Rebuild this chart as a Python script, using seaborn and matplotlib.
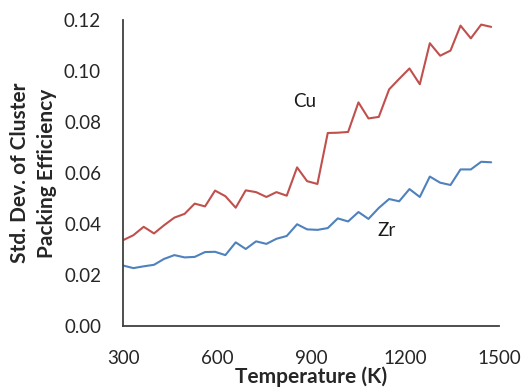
import matplotlib
matplotlib.use("Agg")
import matplotlib.pyplot as plt
import seaborn as sns
import pandas as pd

temperature = [300, 332, 365, 398, 430, 463, 496, 528, 561, 593, 626, 659, 691,
               724, 757, 789, 822, 855, 887, 920, 953, 985, 1018, 1051, 1083,
               1116, 1149, 1181, 1214, 1247, 1279, 1312, 1345, 1377, 1410, 1443, 1475]
cu_values = [0.0337, 0.0356, 0.0389, 0.0363, 0.0395, 0.0425, 0.0440, 0.0480, 0.0469,
             0.0531, 0.0509, 0.0464, 0.0532, 0.0525, 0.0506, 0.0525, 0.0511, 0.0622,
             0.0568, 0.0557, 0.0757, 0.0758, 0.0761, 0.0877, 0.0814, 0.0820, 0.0928,
             0.0969, 0.1010, 0.0948, 0.1109, 0.1060, 0.1080, 0.1178, 0.1128, 0.1182, 0.1173]
zr_values = [0.0237, 0.0227, 0.0234, 0.0240, 0.0263, 0.0278, 0.0269, 0.0271, 0.0290,
             0.0291, 0.0278, 0.0328, 0.0302, 0.0332, 0.0322, 0.0342, 0.0353, 0.0399,
             0.0379, 0.0377, 0.0384, 0.0422, 0.0410, 0.0447, 0.0420, 0.0463, 0.0498,
             0.0489, 0.0537, 0.0506, 0.0586, 0.0562, 0.0553, 0.0614, 0.0614, 0.0644, 0.0642]
x_ticks = [300, 600, 900, 1200, 1500]
y_ticks = [0.00, 0.02, 0.04, 0.06, 0.08, 0.10, 0.12]

sns.set_theme(style="white")
plt.rcParams['font.family'] = ['Lato', 'DejaVu Sans']

df = pd.DataFrame({"T": temperature, "Cu": cu_values, "Zr": zr_values})

fig = plt.figure(figsize=(5.25, 3.9), dpi=100)
ax = fig.add_axes([0.2349, 0.1641, 0.7156, 0.7846])

sns.lineplot(data=df, x="T", y="Cu", ax=ax, color="#C0504D", linewidth=1.5)
sns.lineplot(data=df, x="T", y="Zr", ax=ax, color="#4F81BD", linewidth=1.5)

ax.set_xlim(300, 1500)
ax.set_ylim(0, 0.12)
ax.set_xticks(x_ticks)
ax.set_yticks(y_ticks)
ax.set_xticklabels([str(t) for t in x_ticks])
ax.set_yticklabels([f"{v:.2f}" for v in y_ticks])

for side in ["top", "right"]:
    ax.spines[side].set_visible(False)
for side in ["left", "bottom"]:
    ax.spines[side].set_color("#404040")
    ax.spines[side].set_linewidth(1.3)

ax.tick_params(axis="both", direction="in", length=5, width=1.3, color="#404040",
               labelsize=13.5, labelcolor="#262626")
ax.tick_params(axis="y", pad=16)
ax.tick_params(axis="x", pad=17)

ax.set_xlabel("Temperature (K)", fontsize=15, fontweight="bold", color="#262626", labelpad=0)
ax.set_ylabel("Std. Dev. of Cluster\nPacking Efficiency", fontsize=15,
              fontweight="bold", color="#262626", labelpad=5, linespacing=1.45)

ax.text(880, 0.0882, "Cu", fontsize=13.5, ha="center", va="center", color="#1a1a1a")
ax.text(1142, 0.0376, "Zr", fontsize=13.5, ha="center", va="center", color="#1a1a1a")

fig.savefig("out.png", dpi=100)
